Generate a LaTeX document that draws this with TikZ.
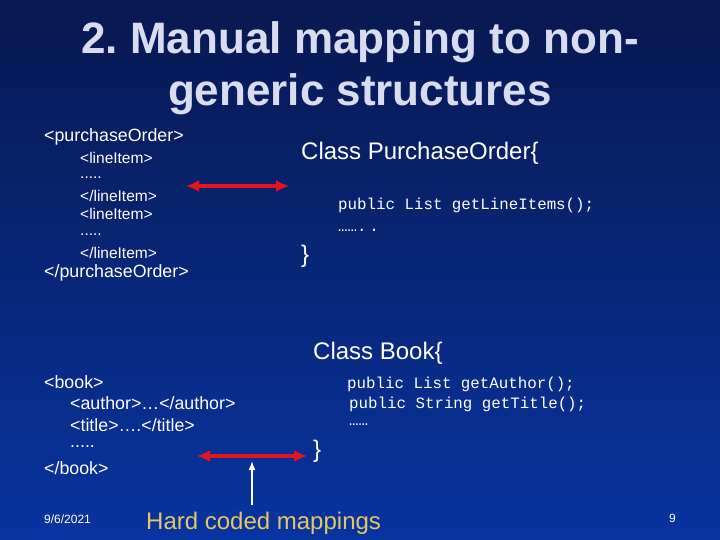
\documentclass[tikz,border=0pt]{standalone}
\usepackage{fontspec}
\setmainfont{Liberation Sans}
\newfontfamily\monof{Liberation Mono}
\begin{document}
\begin{tikzpicture}[x=1pt,y=-1pt,
  txt/.style={anchor=west,inner sep=0pt,text=white},
  big/.style={txt,font=\fontsize{17.8}{20}\selectfont},
  small/.style={txt,font=\fontsize{15.5}{17}\selectfont},
  cls/.style={txt,font=\fontsize{24}{28}\selectfont},
  code/.style={txt,font=\monof\fontsize{15.8}{17}\selectfont},
  redarr/.style={draw={rgb,255:red,230;green,20;blue,30},line width=4pt,{Latex[length=13pt,width=12pt]}-{Latex[length=13pt,width=12pt]}}]
\usetikzlibrary{arrows.meta}
\shade[top color={rgb,255:red,8;green,24;blue,80},bottom color={rgb,255:red,8;green,52;blue,160}] (0,0) rectangle (720,540);
\useasboundingbox (0,0) rectangle (720,540);
\node[inner sep=0pt,text={rgb,255:red,215;green,220;blue,240},font=\bfseries\fontsize{44}{52}\selectfont,align=center] (title) at (360,68) {2.\ Manual mapping to non-\\generic structures};
\node[big] (po) at (44,137) {<purchaseOrder>};
\node[small] (l1) at (80,158) {<lineItem>};
\node[small] (d1) at (80,178) {.....};
\node[small] (l2) at (80,196) {</lineItem>};
\node[small] (l3) at (80,214) {<lineItem>};
\node[small] (d2) at (80,235) {.....};
\node[small] (l4) at (80,253) {</lineItem>};
\node[big] (poe) at (44,273) {</purchaseOrder>};
\coordinate (a1) at (186,186); \coordinate (a2) at (289,186);
\draw[redarr] (a1) -- (a2);
\node[cls] (cpo) at (301,153) {Class PurchaseOrder\{};
\node[code] (m1) at (338,205) {public List getLineItems();};
\node[code] (m2) at (338,230) {…….\,.};
\node[cls] (b1) at (301,256) {\}};
\node[cls] (cb) at (313,353) {Class Book\{};
\node[code] (m3) at (347,384) {public List getAuthor();};
\node[code] (m4) at (349,404) {public String getTitle();};
\node[code] (m5) at (349,425) {……};
\node[cls] (b2) at (313,451) {\}};
\node[big] (bk) at (44,382) {<book>};
\node[big] (au) at (70,403) {<author>…</author>};
\node[big] (ti) at (70,425) {<title>….</title>};
\node[big] (d3) at (70,447) {.....};
\node[big] (bke) at (44,468) {</book>};
\coordinate (c1) at (197,456); \coordinate (c2) at (307,456);
\draw[redarr] (c1) -- (c2);
\node[txt,font=\fontsize{12}{14}\selectfont] (date) at (44,519) {9/6/2021};
\node[txt,text={rgb,255:red,225;green,200;blue,100},font=\fontsize{24}{28}\selectfont] (hc) at (146,523) {Hard coded mappings};
\node[txt,font=\fontsize{12}{14}\selectfont] (pg) at (669,518) {9};
\coordinate (w1) at (252,505); \coordinate (w2) at (252,461);
\draw[white,line width=1.5pt,-{Latex[length=9pt,width=7pt]}] (w1) -- (w2);
\end{tikzpicture}
\end{document}
